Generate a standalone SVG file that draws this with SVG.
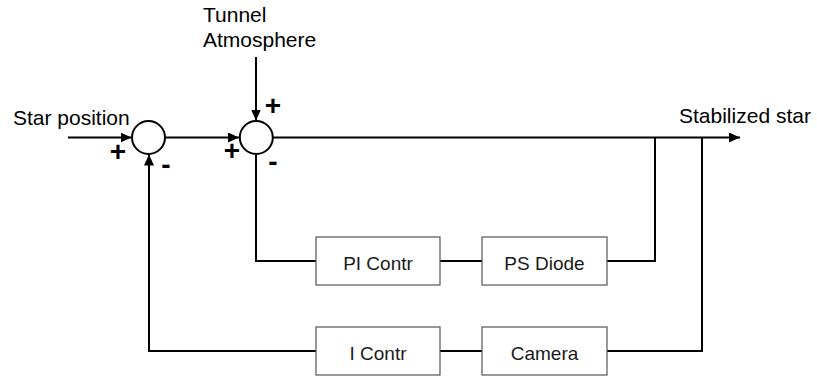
<svg xmlns="http://www.w3.org/2000/svg" width="817" height="376" viewBox="0 0 817 376">
<defs>
<marker id="ah" viewBox="0 0 11 10" refX="11" refY="5" markerWidth="11" markerHeight="10" markerUnits="userSpaceOnUse" orient="auto">
<path d="M0,0 L11,5 L0,10 Z" fill="#000"/>
</marker>
<style>
.ln{fill:none;stroke:#000;stroke-width:2}
.sum{fill:#fff;stroke:#000;stroke-width:2}
.box{fill:#fff;stroke:#555;stroke-width:1.2}
.lbl{font-family:"Liberation Sans",Arial,sans-serif;font-size:21px;fill:#000}
.btxt{font-family:"Liberation Sans",Arial,sans-serif;font-size:19px;fill:#1a1a1a;text-anchor:middle}
.sg{font-family:"Liberation Sans",Arial,sans-serif;font-size:28px;font-weight:bold;fill:#000;text-anchor:middle}
</style>
</defs>
<rect width="817" height="376" fill="#fff"/>
<g id="connectors">
<line class="ln" x1="68" y1="137.5" x2="131.5" y2="137.5" marker-end="url(#ah)"/>
<line class="ln" x1="165" y1="137.5" x2="239" y2="137.5" marker-end="url(#ah)"/>
<line class="ln" x1="256" y1="57" x2="256" y2="120.5" marker-end="url(#ah)"/>
<line class="ln" x1="273" y1="137.5" x2="740" y2="137.5" marker-end="url(#ah)"/>
<polyline class="ln" points="256,154.5 256,261 316,261"/>
<line class="ln" x1="440" y1="261" x2="482" y2="261"/>
<polyline class="ln" points="607,261 655,261 655,137.5"/>
<polyline class="ln" points="702,137.5 702,351 607,351"/>
<line class="ln" x1="440" y1="351" x2="482" y2="351"/>
<polyline class="ln" points="316,351 149,351 149,154.5" marker-end="url(#ah)"/>
</g>
<g id="sum1">
<circle class="sum" cx="148.5" cy="137.5" r="16.5"/>
<text class="sg" x="118" y="161.3">+</text>
<text class="sg" x="166" y="173.8">-</text>
</g>
<g id="sum2">
<circle class="sum" cx="256.3" cy="137.5" r="16.5"/>
<text class="sg" x="273" y="114.8">+</text>
<text class="sg" x="232" y="160.3">+</text>
<text class="sg" x="273" y="170.8">-</text>
</g>
<g id="in-star"><text class="lbl" x="13" y="125">Star position</text></g>
<g id="in-tunnel"><text class="lbl" x="203" y="22">Tunnel</text><text class="lbl" x="203" y="47">Atmosphere</text></g>
<g id="out-star"><text class="lbl" x="679" y="123">Stabilized star</text></g>
<g id="pi"><rect class="box" x="316" y="237" width="124" height="48"/><text class="btxt" x="378" y="269.5">PI Contr</text></g>
<g id="psd"><rect class="box" x="482" y="237" width="125" height="48"/><text class="btxt" x="544.5" y="269.5">PS Diode</text></g>
<g id="ic"><rect class="box" x="316" y="327" width="124" height="48"/><text class="btxt" x="378" y="359.5">I Contr</text></g>
<g id="cam"><rect class="box" x="482" y="327" width="125" height="48"/><text class="btxt" x="544.5" y="359.5">Camera</text></g>
</svg>
